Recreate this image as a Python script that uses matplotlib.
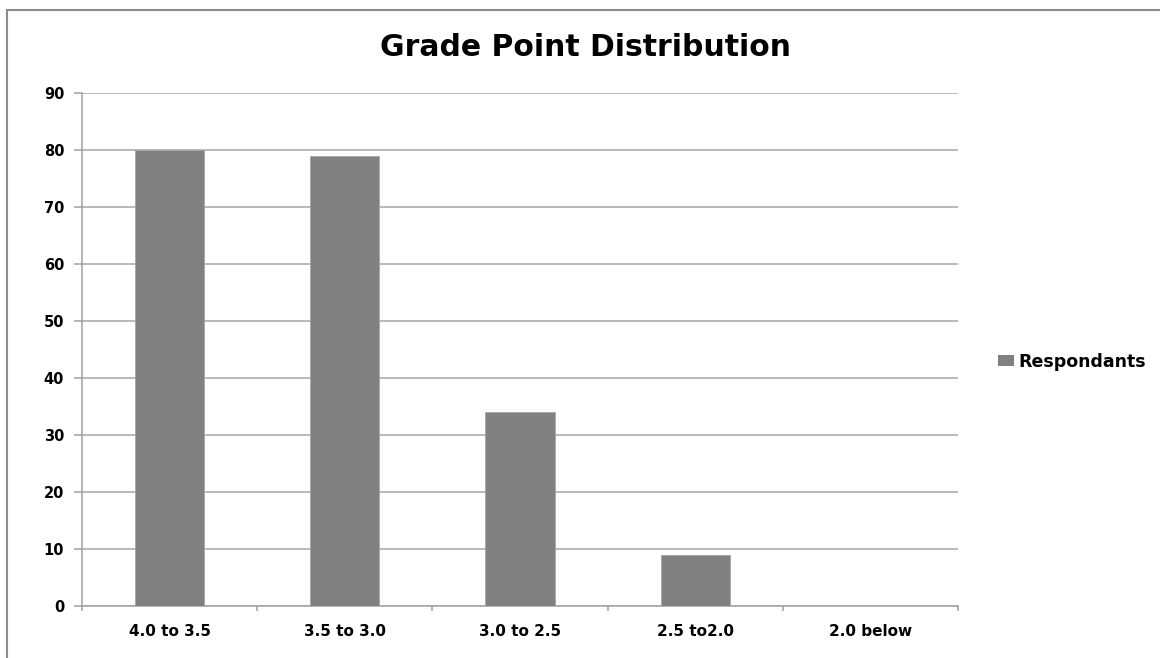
import matplotlib
matplotlib.use("Agg")
import matplotlib.pyplot as plt
from matplotlib.lines import Line2D
from matplotlib.patches import Patch

categories = ["4.0 to 3.5", "3.5 to 3.0", "3.0 to 2.5", "2.5 to2.0", "2.0 below"]
respondants = [80, 79, 34, 9, 0]
y_ticks = [0, 10, 20, 30, 40, 50, 60, 70, 80, 90]

W, H = 1160, 658
fig = plt.figure(figsize=(W / 100, H / 100), dpi=100)
fig.patch.set_facecolor("white")

font = ["DejaVu Sans"]

# chart frame (top and left edges)
fig.add_artist(Line2D([7 / W, 1.0], [1 - 9.5 / H, 1 - 9.5 / H], transform=fig.transFigure,
                      color="#8c8c8c", lw=1.5))
fig.add_artist(Line2D([7 / W, 7 / W], [0, 1 - 9.5 / H], transform=fig.transFigure,
                      color="#8c8c8c", lw=1.5))

ax = fig.add_axes([82 / W, 1 - 606 / H, (958 - 82) / W, (606 - 93) / H])
x = list(range(len(categories)))
ax.bar(x, respondants, width=0.394, color="#808080", edgecolor="#a6a6a6",
       linewidth=0.6, zorder=3, label="Respondants")

ax.set_xlim(-0.5, len(categories) - 0.5)
ax.set_ylim(0, 90)
ax.set_yticks(y_ticks)
ax.set_yticklabels([str(v) for v in y_ticks], fontsize=10.5, fontweight="bold",
                   family=font)
ax.set_xticks(x)
ax.set_xticklabels(categories, fontsize=11, fontweight="bold", family=font)

# category boundary ticks on the x axis
ax.set_xticks([i - 0.5 for i in range(len(categories) + 1)], minor=True)
ax.tick_params(axis="x", which="major", length=0, pad=13)
ax.tick_params(axis="x", which="minor", length=3.8, color="#a0a0a0", width=1.1)
ax.tick_params(axis="y", length=5.8, color="#a0a0a0", width=1.1, pad=7)

ax.grid(axis="y", color="#a6a6a6", linewidth=1.1, zorder=0)
ax.set_axisbelow(True)
for side in ("top", "right"):
    ax.spines[side].set_visible(False)
for side in ("left", "bottom"):
    ax.spines[side].set_color("#a0a0a0")
    ax.spines[side].set_linewidth(1.1)

fig.text(585 / W, 1 - 47 / H, "Grade Point Distribution", ha="center", va="center",
         fontsize=21.5, fontweight="bold", family=font)

fig.legend(handles=[Patch(facecolor="#808080", label="Respondants")],
           loc="center left", bbox_to_anchor=(998 / W, 1 - 362 / H),
           frameon=False, handlelength=0.9, handleheight=0.6,
           handletextpad=0.3, borderaxespad=0, borderpad=0,
           prop={"family": font, "weight": "bold", "size": 12.5})

fig.savefig("out.png", dpi=100, facecolor="white")
